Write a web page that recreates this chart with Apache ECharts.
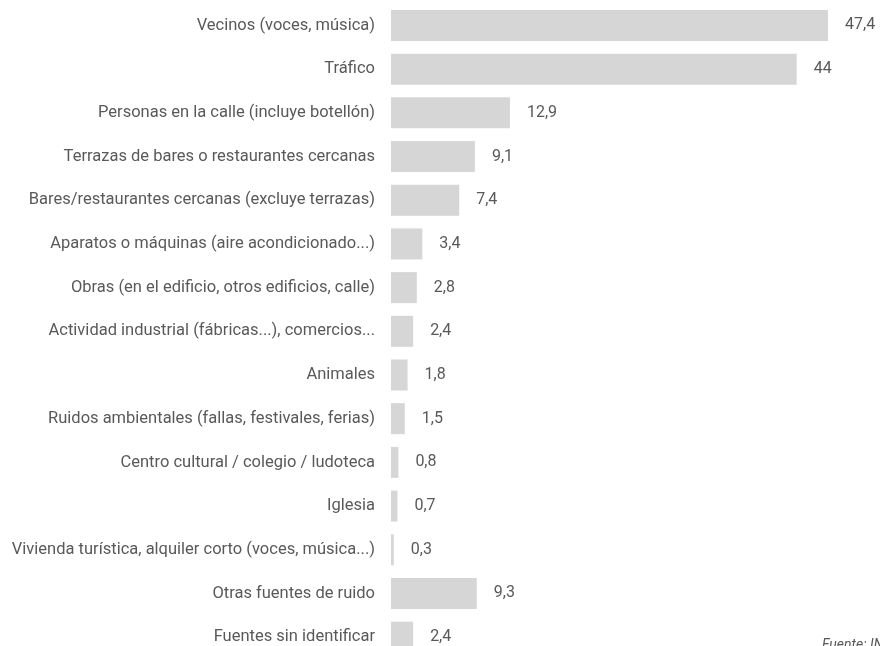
<!DOCTYPE html>
<html>
<head>
<meta charset="utf-8">
<script src="https://cdn.jsdelivr.net/npm/echarts@6/dist/echarts.min.js"></script>
<style>html,body{margin:0;padding:0;background:#fff;}#c{width:880px;height:646px;}</style>
</head>
<body>
<div id="c"></div>
<script>
var categories = [
  "Vecinos (voces, música)",
  "Tráfico",
  "Personas en la calle (incluye botellón)",
  "Terrazas de bares o restaurantes cercanas",
  "Bares/restaurantes cercanas (excluye terrazas)",
  "Aparatos o máquinas (aire acondicionado...)",
  "Obras (en el edificio, otros edificios, calle)",
  "Actividad industrial (fábricas...), comercios...",
  "Animales",
  "Ruidos ambientales (fallas, festivales, ferias)",
  "Centro cultural / colegio / ludoteca",
  "Iglesia",
  "Vivienda turística, alquiler corto (voces, música...)",
  "Otras fuentes de ruido",
  "Fuentes sin identificar"
];
var values = [47.4, 44, 12.9, 9.1, 7.4, 3.4, 2.8, 2.4, 1.8, 1.5, 0.8, 0.7, 0.3, 9.3, 2.4];
var sourceText = "Fuente: INE";

var chart = echarts.init(document.getElementById('c'), null, {renderer: 'canvas'});
chart.setOption({
  animation: false,
  grid: {left: 391, top: 3.6, right: 28, bottom: -13, containLabel: false, outerBoundsMode: 'none'},
  xAxis: {type: 'value', min: 0, max: 50, show: false},
  yAxis: {
    type: 'category', data: categories, inverse: true,
    axisLine: {show: false}, axisTick: {show: false}, splitLine: {show: false},
    axisLabel: {margin: 16, color: '#595959', fontSize: 16.5, fontFamily: 'Roboto'}
  },
  series: [{
    type: 'bar', data: values, barWidth: 31,
    itemStyle: {color: '#d6d6d6'},
    label: {
      show: true, position: 'right', distance: 17, color: '#595959', fontSize: 16, fontFamily: 'Roboto',
      formatter: function (p) { return String(p.value).replace('.', ','); }
    }
  }],
  graphic: [{
    type: 'text', left: 822, top: 638,
    style: {text: sourceText, fill: '#595959', font: 'italic 14px Roboto'}
  }]
});
</script>
</body>
</html>
